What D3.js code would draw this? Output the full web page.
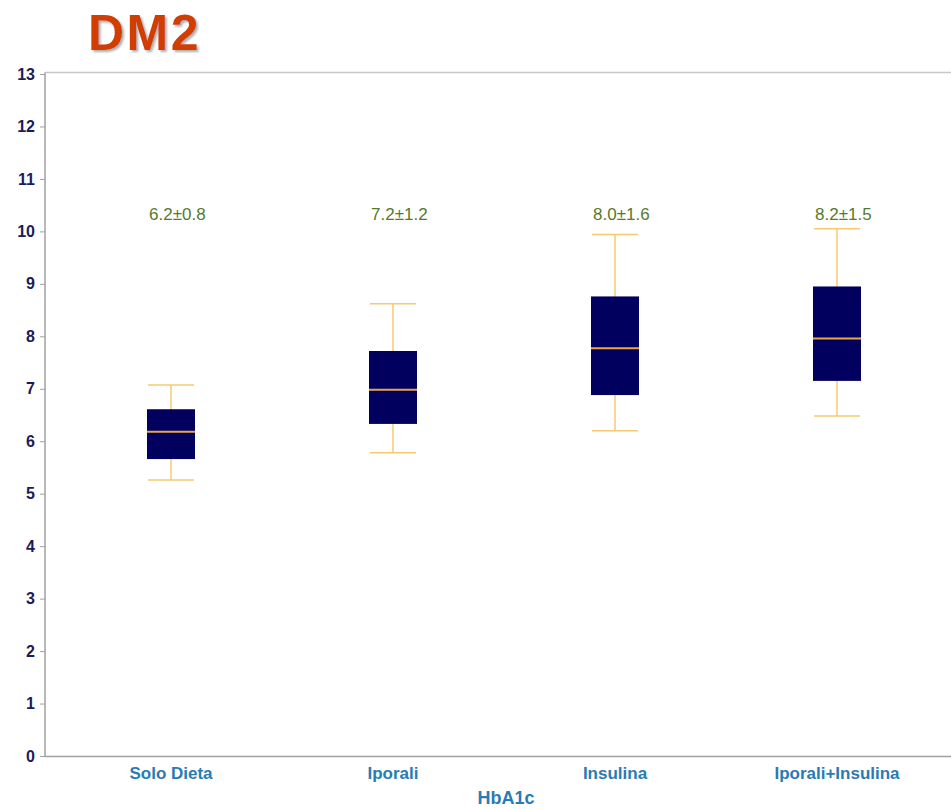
<!DOCTYPE html>
<html>
<head>
<meta charset="utf-8">
<script src="https://cdn.jsdelivr.net/npm/d3@7"></script>
<style>
  html, body { margin: 0; padding: 0; background: #fff; }
  svg { display: block; }
</style>
</head>
<body>
<svg id="chart" width="951" height="809"></svg>
<script>
// HbA1c distribution by treatment group (type 2 diabetes)
const categories = ["Solo Dieta", "Iporali", "Insulina", "Iporali+Insulina"];
const whiskerLow  = [5.26, 5.78, 6.20, 6.48];
const boxLow      = [5.66, 6.33, 6.88, 7.15];
const medians     = [6.18, 6.98, 7.77, 7.96];
const boxHigh     = [6.61, 7.72, 8.76, 8.95];
const whiskerHigh = [7.07, 8.62, 9.94, 10.05];
const meanLabels  = ["6.2±0.8", "7.2±1.2", "8.0±1.6", "8.2±1.5"];
const yTicks      = d3.range(0, 14);

const svg = d3.select("#chart");
const font = "Arial, 'Liberation Sans', sans-serif";

const x = d3.scalePoint().domain(categories).range([60, 948]).padding(0.5);
const y = d3.scaleLinear().domain([0, 13]).range([756, 74]);

const left = 45, right = 951;
const boxW = 48, capW = 46;

// Soft grey shadow behind the title
const defs = svg.append("defs");
const shadow = defs.append("filter").attr("id", "titleShadow")
  .attr("x", "-10%").attr("y", "-10%").attr("width", "130%").attr("height", "130%");
shadow.append("feDropShadow")
  .attr("dx", 2).attr("dy", 2).attr("stdDeviation", 0.8)
  .attr("flood-color", "#9a9a9a").attr("flood-opacity", 0.8);

// Title
svg.append("text")
  .attr("x", 88).attr("y", 50)
  .attr("font-family", font).attr("font-weight", "bold")
  .attr("font-size", 50).attr("letter-spacing", 2.5)
  .attr("fill", "#d23c06")
  .attr("filter", "url(#titleShadow)")
  .text("DM2");

// Frame: top rule and bottom axis line
svg.append("line")
  .attr("x1", left).attr("x2", right)
  .attr("y1", 72.5).attr("y2", 72.5)
  .attr("stroke", "#c8c8c8").attr("stroke-width", 1.5);
svg.append("line")
  .attr("x1", left).attr("x2", right)
  .attr("y1", y(0) + 0.5).attr("y2", y(0) + 0.5)
  .attr("stroke", "#a0a0a0").attr("stroke-width", 1.5);

// Y axis
const yAxis = svg.append("g")
  .attr("transform", `translate(${left},0)`)
  .call(d3.axisLeft(y).tickValues(yTicks).tickSize(5).tickPadding(5).tickFormat(d3.format("d")));
yAxis.select(".domain").attr("stroke", "#a0a0a0").attr("stroke-width", 1.5)
  .attr("d", `M0,72.5V${y(0) + 0.5}`);
yAxis.selectAll(".tick line").attr("stroke", "#a0a0a0");
yAxis.selectAll(".tick text")
  .attr("font-family", font).attr("font-weight", "bold")
  .attr("font-size", 16).attr("fill", "#1b1b5c");

// Category labels
svg.append("g").selectAll("text")
  .data(categories).join("text")
  .attr("x", d => x(d)).attr("y", 779)
  .attr("text-anchor", "middle")
  .attr("font-family", font).attr("font-weight", "bold")
  .attr("font-size", 17).attr("fill", "#2b7bb3")
  .text(d => d);

// X axis title
svg.append("text")
  .attr("x", 506).attr("y", 804)
  .attr("text-anchor", "middle")
  .attr("font-family", font).attr("font-weight", "bold")
  .attr("font-size", 18).attr("fill", "#2b7bb3")
  .text("HbA1c");

// Box plots
const rows = categories.map((c, i) => ({
  c, wl: whiskerLow[i], bl: boxLow[i], md: medians[i],
  bh: boxHigh[i], wh: whiskerHigh[i], label: meanLabels[i]
}));

const whiskerColor = "#f6c870";
const g = svg.append("g").selectAll("g").data(rows).join("g");

// whisker stems
g.append("line")
  .attr("x1", d => x(d.c)).attr("x2", d => x(d.c))
  .attr("y1", d => y(d.wh)).attr("y2", d => y(d.wl))
  .attr("stroke", whiskerColor).attr("stroke-width", 1.5);
// whisker caps
g.append("line")
  .attr("x1", d => x(d.c) - capW / 2).attr("x2", d => x(d.c) + capW / 2)
  .attr("y1", d => y(d.wh)).attr("y2", d => y(d.wh))
  .attr("stroke", whiskerColor).attr("stroke-width", 1.5);
g.append("line")
  .attr("x1", d => x(d.c) - capW / 2).attr("x2", d => x(d.c) + capW / 2)
  .attr("y1", d => y(d.wl)).attr("y2", d => y(d.wl))
  .attr("stroke", whiskerColor).attr("stroke-width", 1.5);
// boxes
g.append("rect")
  .attr("x", d => x(d.c) - boxW / 2).attr("width", boxW)
  .attr("y", d => y(d.bh)).attr("height", d => y(d.bl) - y(d.bh))
  .attr("fill", "#02005e");
// medians
g.append("line")
  .attr("x1", d => x(d.c) - boxW / 2).attr("x2", d => x(d.c) + boxW / 2)
  .attr("y1", d => y(d.md)).attr("y2", d => y(d.md))
  .attr("stroke", "#e8a84a").attr("stroke-width", 2);
// mean ± SD labels
g.append("text")
  .attr("x", d => x(d.c) - boxW / 2 + 2).attr("y", 220)
  .attr("font-family", font).attr("font-size", 17)
  .attr("fill", "#557a2c")
  .text(d => d.label);
</script>
</body>
</html>
